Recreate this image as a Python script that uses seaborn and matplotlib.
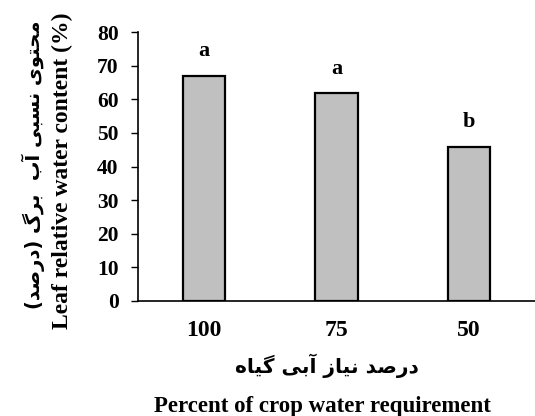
import matplotlib
matplotlib.use("Agg")
import matplotlib.pyplot as plt
import seaborn as sns
import pandas as pd

# --- data ---
levels = ["100", "75", "50"]          # percent of crop water requirement
rwc = [67.0, 61.8, 45.8]              # leaf relative water content (%)
letters = ["a", "a", "b"]             # mean separation letters
yticks = [0, 10, 20, 30, 40, 50, 60, 70, 80]

xlabel_en = "Percent of crop water requirement"
ylabel_en = "Leaf relative water content (%)"
# Persian labels written with Arabic presentation forms (logical order),
# because matplotlib does no Arabic shaping by itself
xlabel_fa = "\uFEA9\uFEAD\uFEBB\uFEAA \uFEE7\uFEF4\uFE8E\uFEAF \uFE81\uFE91\uFEF0 \uFB94\uFEF4\uFE8E\uFEE9"
ylabel_fa = ("\uFEE3\uFEA4\uFE98\uFEEE\uFEEF \uFEE7\uFEB4\uFE92\uFEF0 \uFE81\uFE8F  "
             "\uFE91\uFEAE\uFB92 (\uFEA9\uFEAD\uFEBB\uFEAA)")


def rtl(s):
    # matplotlib draws left to right: flip the order and mirror the brackets
    return s[::-1].translate(str.maketrans("()", ")("))


sns.set_style("ticks", {"axes.edgecolor": "black", "text.color": "black",
                        "xtick.color": "black", "ytick.color": "black"})
plt.rcParams["font.family"] = ["Liberation Serif", "DejaVu Sans"]
plt.rcParams["font.weight"] = "bold"

df = pd.DataFrame({"level": levels, "rwc": rwc})

W, H = 535, 416
fig = plt.figure(figsize=(W / 100, H / 100), dpi=100)
ax = fig.add_axes([138 / W, 1 - 301 / H, 1 - 138 / W, (301 - 32) / H])

sns.barplot(data=df, x="level", y="rwc", color="#c0c0c0", saturation=1,
            edgecolor="black", linewidth=1.6, width=0.32, ax=ax)

for i, (v, lab) in enumerate(zip(rwc, letters)):
    ax.text(i, v + 5.8, lab, ha="center", va="baseline", fontsize=16, fontweight="bold")

ax.set_xlim(-0.5, 2.5)
ax.set_ylim(0, 80)
ax.set_yticks(yticks)
ax.set_xlabel("")
ax.set_ylabel("")
ax.tick_params(axis="y", length=5, width=1, pad=9, labelsize=15.5)
ax.tick_params(axis="x", length=0, pad=14, labelsize=17)
sns.despine(ax=ax)
for side in ["left", "bottom"]:
    ax.spines[side].set_linewidth(1.2)

# axis titles, Persian above/left of English as in the original
fig.text(327 / W, 1 - 366 / H, rtl(xlabel_fa), ha="center", va="center",
         fontsize=14.5, family="DejaVu Sans", fontweight="bold")
fig.text(322 / W, 1 - 412 / H, xlabel_en, ha="center", va="baseline",
         fontsize=16.5, fontweight="bold")
fig.text(33 / W, 1 - 165 / H, rtl(ylabel_fa), ha="center", va="center",
         rotation=90, fontsize=14, family="DejaVu Sans", fontweight="bold")
fig.text(62 / W, 1 - 171 / H, ylabel_en, ha="center", va="center",
         rotation=90, fontsize=17, fontweight="bold")

fig.savefig("out.png", dpi=100)
